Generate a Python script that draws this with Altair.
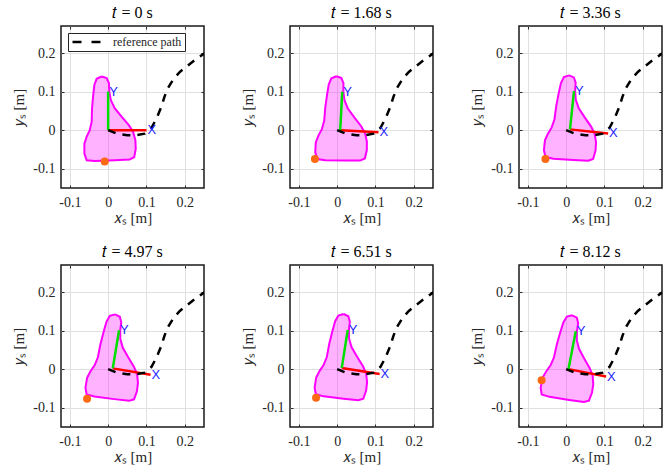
import altair as alt
import numpy as np
import pandas as pd

# ---------------- data ----------------
times = ["0", "1.68", "3.36", "4.97", "6.51", "8.12"]
frame_x = [0.0, 0.008, 0.010, 0.012, 0.012, 0.006]
frame_y = [0.0, 0.0, 0.002, 0.002, 0.003, 0.0]
frame_deg = [0.0, -3.0, -6.0, -9.5, -9.0, -11.0]
contact_x = [-0.009, -0.058, -0.054, -0.055, -0.055, -0.064]
contact_y = [-0.081, -0.075, -0.075, -0.077, -0.074, -0.029]

# object outline in its body frame
shape_x = [-0.017, -0.004, 0.002, 0.003, 0.007, 0.017, 0.035, 0.054, 0.065, 0.071,
           0.072, 0.068, 0.056, 0.017, -0.035, -0.056, -0.062, -0.062, -0.056, -0.048,
           -0.043, -0.042, -0.039, -0.036, -0.030, -0.017]
shape_y = [0.139, 0.135, 0.122, 0.100, 0.078, 0.057, 0.035, 0.013, -0.004, -0.026,
           -0.048, -0.070, -0.076, -0.078, -0.080, -0.078, -0.061, -0.035, -0.017, 0.000,
           0.022, 0.057, 0.091, 0.117, 0.133, 0.139]

# reference path (world frame)
path_x = [0.000, 0.022, 0.050, 0.074, 0.095, 0.113, 0.126, 0.139, 0.147, 0.156,
          0.170, 0.187, 0.206, 0.225, 0.248, 0.262]
path_y = [0.000, -0.009, -0.013, -0.013, -0.009, 0.006, 0.030, 0.061, 0.087, 0.109,
          0.132, 0.151, 0.166, 0.181, 0.197, 0.206]

axis_len = 0.1
x_ticks = [-0.1, 0, 0.1, 0.2]
y_ticks = [-0.1, 0, 0.1, 0.2]
x_domain = [-0.123, 0.25]
y_domain = [-0.15, 0.27]

SERIF = "Liberation Serif"


def pose(k, bx, by):
    th = np.radians(frame_deg[k])
    bx = np.asarray(bx, dtype=float)
    by = np.asarray(by, dtype=float)
    wx = frame_x[k] + np.cos(th) * bx - np.sin(th) * by
    wy = frame_y[k] + np.sin(th) * bx + np.cos(th) * by
    return wx, wy


label_expr = "datum.value == 0 ? '0' : (datum.value < 0 ? '-' : '') + format(abs(datum.value), '.1f')"

xscale = alt.Scale(domain=x_domain, nice=False, zero=False)
yscale = alt.Scale(domain=y_domain, nice=False, zero=False)
xaxis = alt.Axis(values=x_ticks, labelExpr=label_expr, labelPadding=7, titlePadding=1,
                 grid=True, ticks=False)
yaxis = alt.Axis(values=y_ticks, labelExpr=label_expr, labelPadding=6, titlePadding=6,
                 grid=True, ticks=False)


def tick_axis(values, orient):
    # small inward ticks on the box edges
    return alt.Axis(values=values, orient=orient, offset=-3, ticks=True, tickSize=3,
                    tickColor="#262626", tickWidth=1, labels=False, grid=False,
                    domain=False, title=None)


XT = "𝑥ₛ [m]"
YT = "𝑦ₛ [m]"


def panel(k):
    sx, sy = pose(k, shape_x, shape_y)
    shp = pd.DataFrame({"x": sx, "y": sy, "i": range(len(sx))})
    pth = pd.DataFrame({"x": path_x, "y": path_y, "i": range(len(path_x)),
                        "name": "reference path"})
    rx, ry = pose(k, [0, axis_len], [0, 0])
    gx, gy = pose(k, [0, 0], [0, axis_len])
    red = pd.DataFrame({"x": rx, "y": ry, "i": [0, 1]})
    grn = pd.DataFrame({"x": gx, "y": gy, "i": [0, 1]})
    lab = pd.DataFrame({"x": [rx[1], gx[1]], "y": [ry[1], gy[1]], "t": ["X", "Y"]})
    dot = pd.DataFrame({"x": [contact_x[k]], "y": [contact_y[k]]})

    X = alt.X("x:Q", scale=xscale, axis=xaxis, title=XT)
    Y = alt.Y("y:Q", scale=yscale, axis=yaxis, title=YT)
    Xb = alt.X("x:Q", scale=xscale, axis=tick_axis(x_ticks, "bottom"))
    Yl = alt.Y("y:Q", scale=yscale, axis=tick_axis(y_ticks, "left"))
    Xt = alt.X("x:Q", scale=xscale, axis=tick_axis(x_ticks, "top"))
    Yr = alt.Y("y:Q", scale=yscale, axis=tick_axis(y_ticks, "right"))
    Xn = alt.X("x:Q", scale=xscale, axis=None)
    Yn = alt.Y("y:Q", scale=yscale, axis=None)

    body = alt.Chart(shp).mark_line(stroke="#ff00ff", strokeWidth=2, fill="#ff00ff",
                                     fillOpacity=0.3, clip=True).encode(
        x=X, y=Y, order="i:Q")
    if k == 0:
        ref = alt.Chart(pth).mark_line(strokeWidth=2.5, strokeDash=[8, 7], clip=True).encode(
            x=Xn, y=Yn, order="i:Q",
            color=alt.Color("name:N", scale=alt.Scale(range=["black"]),
                            legend=alt.Legend(orient="top-left", title=None, symbolType="stroke",
                                              symbolDash=[9, 10], symbolStrokeWidth=2.5,
                                              symbolSize=841, symbolStrokeColor="black",
                                              clipHeight=12, padding=3, offset=7,
                                              labelOffset=10)))
    else:
        ref = alt.Chart(pth).mark_line(color="black", strokeWidth=2.5, strokeDash=[8, 7],
                                       clip=True).encode(x=Xn, y=Yn, order="i:Q")
    rl = alt.Chart(red).mark_line(color="#ff0000", strokeWidth=2.5).encode(x=Xb, y=Yl, order="i:Q")
    gl = alt.Chart(grn).mark_line(color="#00e000", strokeWidth=2.5).encode(x=Xt, y=Yr, order="i:Q")
    tx = alt.Chart(lab).mark_text(color="#1f1fff", font="Liberation Sans", fontSize=13,
                                  align="left", baseline="middle", dx=1).encode(
        x=Xn, y=Yn, text="t:N")
    dt = alt.Chart(dot).mark_circle(color="#fb6a12", size=64, opacity=1).encode(x=Xn, y=Yn)

    return alt.layer(body, rl, gl, ref, tx, dt).resolve_axis(
        x="independent", y="independent").properties(
        width=143, height=162,
        title=alt.TitleParams(f"𝑡 = {times[k]} s", offset=5))


row1 = alt.hconcat(panel(0), panel(1), panel(2), spacing=34)
row2 = alt.hconcat(panel(3), panel(4), panel(5), spacing=34)
chart = alt.vconcat(row1, row2, spacing=16).resolve_scale(color="independent").resolve_legend(
    color="independent").properties(
    padding={"left": 11, "top": 3, "right": 2, "bottom": 5}, background="white"
).configure(font=SERIF).configure_view(
    stroke="#1a1a1a", strokeWidth=1.5
).configure_axis(
    gridColor="#e0e0e0",
    labelFont=SERIF, labelFontSize=14, labelColor="#262626", domain=False,
    titleFont=SERIF, titleFontSize=15, titleFontWeight="normal", titleColor="#262626"
).configure_title(
    font=SERIF, fontSize=16, fontWeight="normal", color="black"
).configure_legend(
    labelFont=SERIF, labelFontSize=12, labelColor="#262626",
    strokeColor="#262626", fillColor="white"
)

chart.save("out.html", embed_options={"renderer": "svg", "actions": False})
